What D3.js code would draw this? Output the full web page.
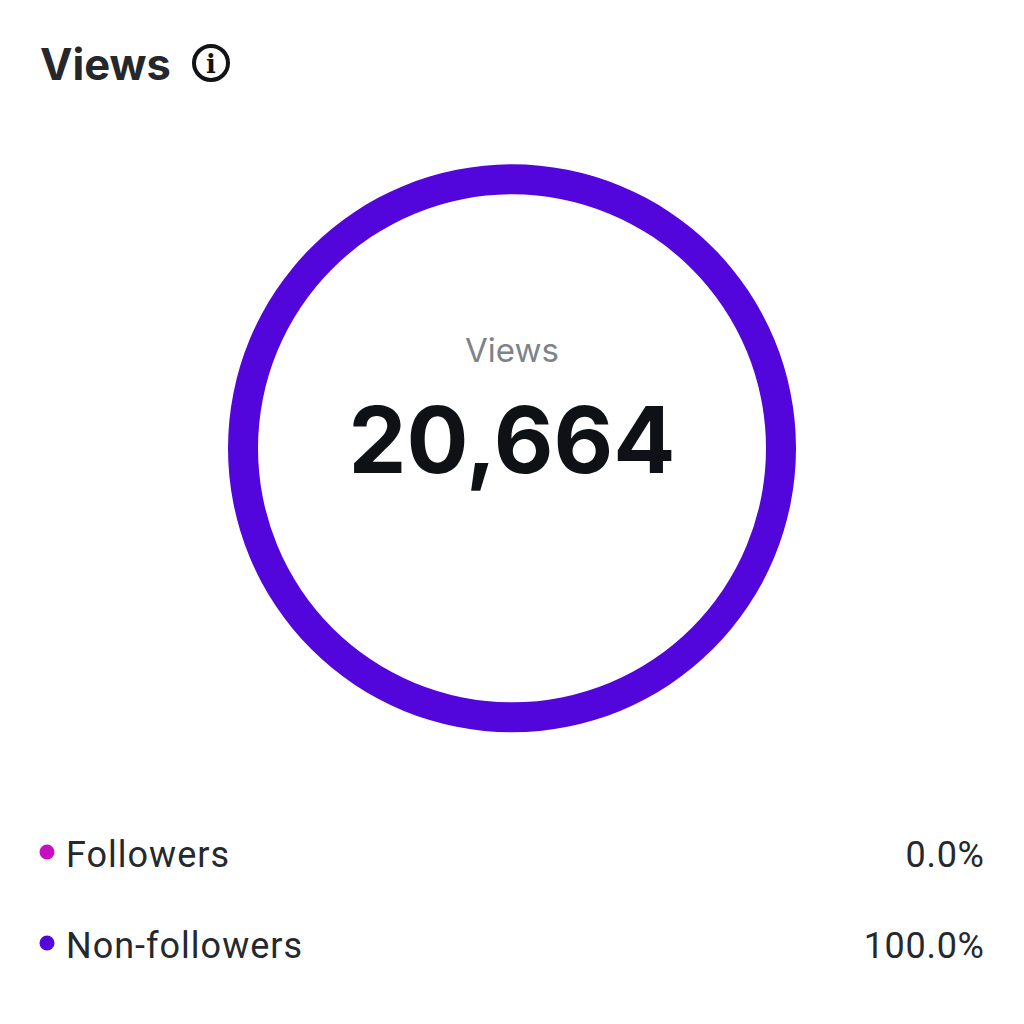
<!DOCTYPE html>
<html><head><meta charset="utf-8">
<script src="https://cdn.jsdelivr.net/npm/d3@7"></script>
<style>html,body{margin:0;padding:0;background:#fff}svg{display:block}text{font-family:Roboto,sans-serif}</style>
</head><body><svg id="c" width="1024" height="1024"></svg>
<script>
const categories=["Followers","Non-followers"];
const shares=[0.0,100.0];
const colors=["#c80fc0","#5206dc"];
const total=20664;
const title="Views";
const centerLabel="Views";
const svg=d3.select("#c");
svg.append("text").attr("x",40).attr("y",80).attr("font-size",43.5).attr("font-weight",700).attr("fill","#25272b").style("font-family","Inter").text(title);
const info=svg.append("g").attr("transform","translate(211,63)");
info.append("circle").attr("r",17).attr("fill","none").attr("stroke","#111316").attr("stroke-width",4);
info.append("text").attr("text-anchor","middle").attr("y",10).attr("font-size",26).attr("font-weight",700).style("font-family","'DejaVu Serif'").attr("fill","#111316").text("i");
const arc=d3.arc().innerRadius(254).outerRadius(284);
const pie=d3.pie().sort(null).value(d=>d.v)(categories.map((c,i)=>({c,v:shares[i],col:colors[i]})));
svg.append("g").attr("transform","translate(512,448.3)").selectAll("path").data(pie).join("path").attr("d",arc).attr("fill",d=>d.data.col);
svg.append("text").attr("x",512).attr("y",362).attr("text-anchor","middle").attr("font-size",33).attr("fill","#7d838b").style("font-family","Inter").text(centerLabel);
svg.append("text").attr("x",512).attr("y",473).attr("text-anchor","middle").attr("font-size",92).attr("font-weight",700).attr("fill","#0e1217").style("font-family","Inter").text(d3.format(",")(total));
const y=d3.scalePoint().domain(categories).range([855,946]);
const rows=svg.append("g").selectAll("g").data(categories).join("g").attr("transform",d=>`translate(0,${y(d)})`);
rows.append("circle").attr("cx",47).attr("cy",-3).attr("r",7.5).attr("fill",(d,i)=>colors[i]);
rows.append("text").attr("x",66).attr("y",12).attr("font-size",36).attr("letter-spacing",1).attr("fill","#25282d").text(d=>d);
rows.append("text").attr("x",984.7).attr("y",12).attr("text-anchor","end").attr("font-size",36).attr("letter-spacing",0.7).attr("fill","#25282d").text((d,i)=>shares[i].toFixed(1)+"%");
</script></body></html>
